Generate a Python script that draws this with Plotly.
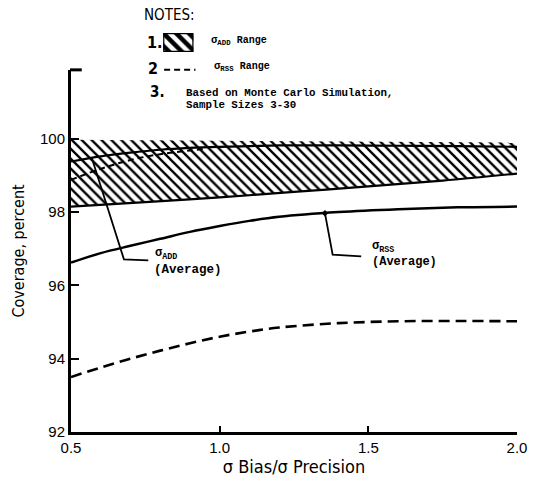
import numpy as np
import plotly.graph_objects as go

# ---------------- data ----------------
x_band = [0.5, 0.75, 1.0, 1.25, 1.5, 1.75, 2.0]
add_range_top = [99.97, 99.96, 99.95, 99.94, 99.93, 99.92, 99.90]
add_range_low = [98.15, 98.27, 98.40, 98.55, 98.70, 98.86, 99.05]

x_curve = [0.5, 0.6, 0.7, 0.8, 0.9, 1.0, 1.1, 1.2, 1.4, 1.6, 1.8, 2.0]
add_average = [99.38, 99.52, 99.62, 99.70, 99.75, 99.78, 99.80, 99.82, 99.82, 99.81, 99.80, 99.78]
rss_average = [96.62, 96.88, 97.08, 97.27, 97.46, 97.62, 97.76, 97.87, 98.00, 98.08, 98.13, 98.15]
rss_range_low = [93.50, 93.76, 94.00, 94.22, 94.42, 94.60, 94.74, 94.85, 94.97, 95.02, 95.03, 95.02]

x_rss_upper = [0.5, 0.6, 0.7, 0.8, 0.9, 0.95]
rss_range_high = [98.88, 99.18, 99.42, 99.58, 99.68, 99.73]

x_ticks = [0.5, 1.0, 1.5, 2.0]
x_ticktext = ["0.5", "1.0", "1.5", "2.0"]
y_ticks = [92, 94, 96, 98, 100]
y_ticktext = ["92", "94", "96", "98", "100"]

x_title = "σ Bias/σ Precision"
y_title = "Coverage, percent"

# ---------------- layout helpers ----------------
W, H = 537, 485
ML, MR, MT, MB = 71, 11, 10, 52
PW, PH = W - ML - MR, H - MT - MB
MAIN_TOP_PX = 70
main_dom_top = (H - MB - MAIN_TOP_PX) / PH


def px_x(px):
    return (px - ML) / PW


def px_y(py):
    return (H - MB - py) / PH


SANS = "Liberation Sans, Arial, sans-serif"
NARROW = "Liberation Sans Narrow, Arial Narrow, DejaVu Sans Condensed, Liberation Sans, sans-serif"
MONO = "Liberation Mono, Courier New, DejaVu Sans Mono, monospace"

hatch = dict(shape="\\", fgcolor="black", bgcolor="white", size=7, solidity=0.34, fgopacity=1)

fig = go.Figure()

# ADD range (hatched band)
fig.add_trace(go.Scatter(x=x_band, y=add_range_low, mode="lines",
                         line=dict(color="black", width=0), showlegend=False, hoverinfo="skip"))
fig.add_trace(go.Scatter(x=x_band, y=add_range_top, mode="lines", fill="tonexty",
                         fillcolor="white", fillpattern=hatch,
                         line=dict(color="black", width=0), showlegend=False, hoverinfo="skip"))
fig.add_trace(go.Scatter(x=x_band, y=add_range_low, mode="lines", line_shape="spline",
                         line=dict(color="black", width=2.2), showlegend=False))

# ADD average
fig.add_trace(go.Scatter(x=x_curve, y=add_average, mode="lines", line_shape="spline",
                         line=dict(color="black", width=2.2), showlegend=False))
# RSS range upper (dashed, inside hatch)
fig.add_trace(go.Scatter(x=x_rss_upper, y=rss_range_high, mode="lines", line_shape="spline",
                         line=dict(color="black", width=2, dash="6px,4px"), showlegend=False))
# RSS average
fig.add_trace(go.Scatter(x=x_curve, y=rss_average, mode="lines", line_shape="spline",
                         line=dict(color="black", width=2.5), showlegend=False))
# RSS range lower (dashed)
fig.add_trace(go.Scatter(x=x_curve, y=rss_range_low, mode="lines", line_shape="spline",
                         line=dict(color="black", width=2.6, dash="11px,6px"), showlegend=False))

# leader lines to the curve labels
add_lx = [0.57, 0.678, 0.76]
add_ly = [float(np.interp(0.57, x_curve, add_average)), 96.71, 96.68]
fig.add_trace(go.Scatter(x=add_lx, y=add_ly, mode="lines",
                         line=dict(color="black", width=1.8), showlegend=False))
rss_lx = [1.354, 1.38, 1.476]
rss_ly = [float(np.interp(1.354, x_curve, rss_average)), 96.84, 96.79]
fig.add_trace(go.Scatter(x=rss_lx, y=rss_ly, mode="lines",
                         line=dict(color="black", width=1.8), showlegend=False))
fig.add_trace(go.Scatter(x=rss_lx[:1], y=rss_ly[:1], mode="markers",
                         marker=dict(color="black", size=5, symbol="diamond"), showlegend=False))

# legend swatch (note 1) on an overlay axis
fig.add_trace(go.Scatter(x=[0, 1, 1, 0, 0], y=[0, 0, 1, 1, 0], mode="lines", fill="toself",
                         fillcolor="white", fillpattern=dict(shape="\\", fgcolor="black", bgcolor="white",
                                                             size=9, solidity=0.5, fgopacity=1),
                         line=dict(color="black", width=2.5), xaxis="x2", yaxis="y2",
                         showlegend=False, hoverinfo="skip"))

annotations = []


def note(text, px, py, font, size, anchor="left", bold=False):
    if bold:
        text = "<b>" + text + "</b>"
    annotations.append(dict(text=text, x=px_x(px), y=px_y(py), xref="paper", yref="paper",
                            xanchor=anchor, yanchor="middle", showarrow=False,
                            font=dict(family=font, size=size, color="black")))


note("NOTES:", 143, 15, NARROW, 15)
note("1.", 146, 43, NARROW, 16, bold=True)
note("σ<sub>ADD</sub> <span style='font-size:10px'>Range</span>", 212, 41, MONO, 10.5, bold=True)
note("2", 148, 69, NARROW, 16, bold=True)
note("σ<sub>RSS</sub> <span style='font-size:10px'>Range</span>", 215, 67, MONO, 10.5, bold=True)
note("3.", 150, 92, NARROW, 15, bold=True)
note("Based on Monte Carlo Simulation,", 186, 93, MONO, 10.8, bold=True)
note("Sample Sizes 3-30", 186, 105, MONO, 10.8, bold=True)

# curve labels
for txt, xv, yv, sz in [("σ<sub>ADD</sub>", 0.777, 96.86, 12), ("(Average)", 0.772, 96.42, 12.5),
                        ("σ<sub>RSS</sub>", 1.505, 97.06, 12), ("(Average)", 1.505, 96.64, 12)]:
    annotations.append(dict(text="<b>" + txt + "</b>", x=xv, y=yv, xref="x", yref="y",
                            xanchor="left", yanchor="middle", showarrow=False,
                            font=dict(family=MONO, size=sz, color="black")))

shapes = [
    # small bracket at the top of the y axis
    dict(type="line", xref="paper", yref="paper", x0=px_x(70), x1=px_x(82), y0=px_y(70), y1=px_y(70),
         line=dict(color="black", width=3)),
    # dashed sample for note 2
    dict(type="line", xref="paper", yref="paper", x0=px_x(166), x1=px_x(198), y0=px_y(70), y1=px_y(70),
         line=dict(color="black", width=2, dash="6px,4px")),
]

fig.update_layout(
    width=W, height=H,
    margin=dict(l=ML, r=MR, t=MT, b=MB),
    paper_bgcolor="white", plot_bgcolor="white",
    font=dict(family=SANS, color="black"),
    xaxis=dict(range=[0.5, 2.0], tickvals=x_ticks, ticktext=x_ticktext, ticks="inside",
               ticklen=6, tickwidth=2, tickcolor="black", showline=True, linecolor="black",
               linewidth=3, showgrid=False, zeroline=False,
               tickfont=dict(family=SANS, size=15, color="black"),
               title=dict(text=x_title, font=dict(family=NARROW, size=18, color="black"), standoff=6)),
    yaxis=dict(range=[92, 101.88], domain=[0, main_dom_top], tickvals=y_ticks, ticktext=y_ticktext,
               ticks="inside", ticklen=8, tickwidth=2, tickcolor="black", showline=True,
               linecolor="black", linewidth=3, showgrid=False, zeroline=False,
               tickfont=dict(family=SANS, size=15, color="black"),
               title=dict(text=y_title, font=dict(family=NARROW, size=16, color="black"), standoff=12)),
    xaxis2=dict(domain=[px_x(165), px_x(196)], range=[0, 1], visible=False, anchor="y2"),
    yaxis2=dict(domain=[px_y(52), px_y(33)], range=[0, 1], visible=False, anchor="x2"),
    annotations=annotations,
    shapes=shapes,
    showlegend=False,
)

fig.write_html("out.html")
